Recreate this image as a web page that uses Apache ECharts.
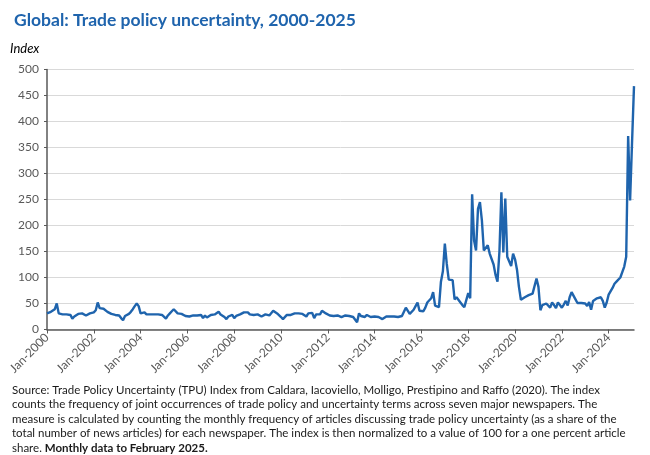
<!DOCTYPE html>
<html>
<head>
<meta charset="utf-8">
<script src="https://cdn.jsdelivr.net/npm/echarts@6/dist/echarts.min.js"></script>
<style>
html,body{margin:0;padding:0;background:#fff;}
#chart{width:650px;height:455px;}
</style>
</head>
<body>
<div id="chart"></div>
<script>
// Data: monthly TPU index, Jan-2000 .. Feb-2025
var years = [2000,2001,2002,2003,2004,2005,2006,2007,2008,2009,2010,2011,2012,2013,2014,2015,2016,2017,2018,2019,2020,2021,2022,2023,2024,2025];
var monthNames = ['Jan','Feb','Mar','Apr','May','Jun','Jul','Aug','Sep','Oct','Nov','Dec'];
var v2000 = [31,30,34,37,39,50,31,31,29,31,29,26];
var v2001 = [28,21,25,27,30,30,31,29,27,25,31,33];
var v2002 = [33,37,52,41,40,40,38,34,34,30,27,28];
var v2003 = [29,27,22,18,26,29,30,34,39,45,50,45];
var v2004 = [31,34,33,29,30,29,30,29,29,29,30,28];
var v2005 = [25,21,27,31,35,39,37,31,29,30,28,26];
var v2006 = [24,25,26,27,28,27,25,28,22,27,23,25];
var v2007 = [28,27,29,29,34,29,26,24,20,25,22,28];
var v2008 = [22,26,27,29,31,33,30,33,29,28,28,31];
var v2009 = [29,30,25,27,29,31,27,28,36,34,31,28];
var v2010 = [24,20,22,28,27,28,29,31,31,31,31,30];
var v2011 = [27,25,31,28,32,22,29,27,29,36,36,31];
var v2012 = [28,27,26,26,24,27,25,24,24,27,25,26];
var v2013 = [26,24,25,14,31,26,27,24,28,27,24,27];
var v2014 = [25,23,24,24,20,18,25,26,25,27,25,26];
var v2015 = [24,25,26,24,42,45,30,33,38,45,52,36];
var v2016 = [33,35,42,52,50,60,72,46,43,43,92,112];
var v2017 = [165,126,96,94,95,58,62,59,52,47,43,46];
var v2018 = [70,60,260,171,152,232,245,210,152,149,162,146];
var v2019 = [146,125,105,92,150,264,148,252,140,137,122,146];
var v2020 = [135,115,82,57,60,62,64,66,68,69,71,98];
var v2021 = [82,37,47,50,50,52,42,52,47,41,52,47];
var v2022 = [42,48,55,46,62,72,70,58,51,50,51,48];
var v2023 = [50,45,53,38,55,55,60,61,62,55,42,52];
var v2024 = [67,70,80,88,92,94,100,101,121,140,372,248];
var v2025 = [360,468];
var yTicks = [0,50,100,150,200,250,300,350,400,450,500];

var values = [].concat(v2000,v2001,v2002,v2003,v2004,v2005,v2006,v2007,v2008,v2009,v2010,v2011,v2012,v2013,v2014,v2015,v2016,v2017,v2018,v2019,v2020,v2021,v2022,v2023,v2024,v2025);
var categories = [];
for (var i = 0; i < values.length; i++) {
  categories.push(monthNames[i % 12] + '-' + years[Math.floor(i / 12)]);
}

var FONT = 'Lato';
var chart = echarts.init(document.getElementById('chart'), null, {renderer: 'canvas'});
chart.setOption({
  animation: false,
  textStyle: {fontFamily: FONT},
  title: {
    text: 'Global: Trade policy uncertainty, 2000-2025',
    left: 9, top: 6,
    textStyle: {color: '#1f64ad', fontSize: 17.5, fontWeight: 'bold', fontFamily: FONT}
  },
  grid: {left: 47, right: 16, top: 69.5, bottom: 125.5, containLabel: false},
  xAxis: {
    type: 'category',
    data: categories,
    boundaryGap: false,
    axisLine: {show: true, lineStyle: {color: '#595959', width: 1.5}},
    axisTick: {show: true, interval: 23, length: 4, lineStyle: {color: '#595959'}},
    axisLabel: {interval: 23, rotate: 45, color: '#595959', fontSize: 12, margin: 6, fontFamily: FONT},
    splitLine: {show: false}
  },
  yAxis: {
    type: 'value',
    min: yTicks[0], max: yTicks[yTicks.length - 1], interval: 50,
    name: 'Index',
    nameLocation: 'end',
    nameGap: 14,
    nameTextStyle: {color: '#000', fontStyle: 'italic', fontSize: 13, align: 'left', padding: [0, 0, 0, -37], fontFamily: FONT},
    axisLine: {show: true, lineStyle: {color: '#595959', width: 1.5}},
    axisTick: {show: true, length: 3, lineStyle: {color: '#595959'}},
    axisLabel: {color: '#595959', fontSize: 12, margin: 8, fontFamily: FONT},
    splitLine: {show: true, lineStyle: {color: '#d9d9d9', width: 1}}
  },
  series: [{
    type: 'line',
    data: values,
    showSymbol: false,
    symbol: 'none',
    lineStyle: {color: '#1f64ad', width: 2.4},
    z: 3
  }],
  graphic: [{
    type: 'text',
    left: 12, top: 383,
    style: {
      text: 'Source: Trade Policy Uncertainty (TPU) Index from Caldara, Iacoviello, Molligo, Prestipino and Raffo (2020). The index\n' +
            'counts the frequency of joint occurrences of trade policy and uncertainty terms across seven major newspapers. The\n' +
            'measure is calculated by counting the monthly frequency of articles discussing trade policy uncertainty (as a share of the\n' +
            'total number of news articles) for each newspaper. The index is then normalized to a value of 100 for a one percent article\n' +
            'share. {b|Monthly data to February 2025.}',
      font: '11.5px ' + FONT,
      fill: '#1a1a1a',
      lineHeight: 14.4,
      rich: {b: {fontWeight: 'bold', fontSize: 11.5, fontFamily: FONT, lineHeight: 14.4, fill: '#1a1a1a'}}
    }
  }]
});
</script>
</body>
</html>
